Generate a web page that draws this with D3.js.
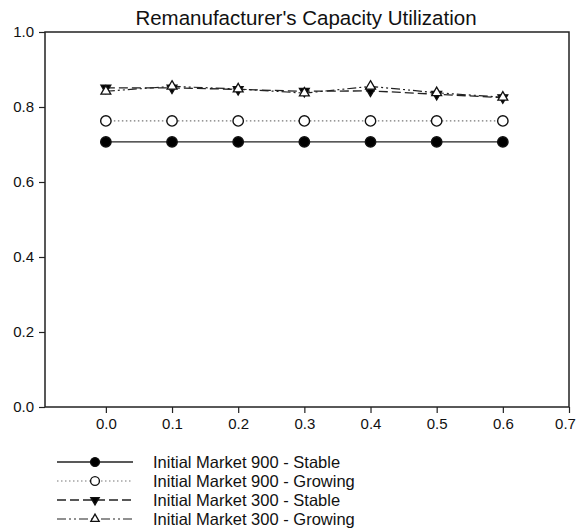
<!DOCTYPE html>
<html>
<head>
<meta charset="utf-8">
<script src="https://cdn.jsdelivr.net/npm/d3@7/dist/d3.min.js"></script>
<style>
  html, body { margin: 0; padding: 0; background: #fff; }
  svg { display: block; font-family: "Liberation Sans", Arial, sans-serif; }
</style>
</head>
<body>
<svg id="chart" width="578" height="528"></svg>
<script>
// Remanufacturer's capacity utilization vs. parameter value
const xValues = [0.0, 0.1, 0.2, 0.3, 0.4, 0.5, 0.6];
const market900Stable  = [0.707, 0.707, 0.707, 0.707, 0.707, 0.707, 0.707];
const market900Growing = [0.763, 0.763, 0.763, 0.763, 0.763, 0.763, 0.763];
const market300Stable  = [0.851, 0.851, 0.847, 0.842, 0.843, 0.834, 0.825];
const market300Growing = [0.842, 0.855, 0.848, 0.837, 0.855, 0.838, 0.826];

const xTicks = [0.0, 0.1, 0.2, 0.3, 0.4, 0.5, 0.6, 0.7];
const yTicks = [0.0, 0.2, 0.4, 0.6, 0.8, 1.0];
const seriesNames = [
  "Initial Market 900 - Stable",
  "Initial Market 900 - Growing",
  "Initial Market 300 - Stable",
  "Initial Market 300 - Growing"
];
const chartTitle = "Remanufacturer's Capacity Utilization";

const svg = d3.select("#chart");
const plot = { left: 45, right: 569, top: 32, bottom: 407 };

const x = d3.scaleLinear().domain([-0.092, 0.7]).range([plot.left, plot.right]);
const y = d3.scaleLinear().domain([0, 1]).range([plot.bottom, plot.top]);

const ink = "#222";

// Series styling
const series = [
  { name: seriesNames[0], values: market900Stable,  dash: null,          lineColor: ink,    lineWidth: 1.4, marker: "circle",  fill: "#000" },
  { name: seriesNames[1], values: market900Growing, dash: "1.5,2.5",     lineColor: "#777", lineWidth: 1.2, marker: "circle",  fill: "#fff" },
  { name: seriesNames[2], values: market300Stable,  dash: "9,4",         lineColor: ink,    lineWidth: 1.3, marker: "triDown", fill: "#000" },
  { name: seriesNames[3], values: market300Growing, dash: "9,3,2,3,2,3", lineColor: ink,    lineWidth: 1.2, marker: "triUp",   fill: "#fff" }
];

// Title
svg.append("text")
  .attr("x", 306)
  .attr("y", 25)
  .attr("text-anchor", "middle")
  .attr("font-size", 20.5)
  .attr("fill", "#111")
  .text(chartTitle);

// Axes
const yAxis = d3.axisLeft(y).tickValues(yTicks).tickFormat(d3.format(".1f")).tickSize(6).tickPadding(5);
const xAxis = d3.axisBottom(x).tickValues(xTicks).tickFormat(d3.format(".1f")).tickSize(6).tickPadding(5);

const gy = svg.append("g").attr("transform", `translate(${plot.left},0)`).call(yAxis);
const gx = svg.append("g").attr("transform", `translate(0,${plot.bottom})`).call(xAxis);
[gx, gy].forEach(g => {
  g.select(".domain").remove();
  g.selectAll(".tick line").attr("stroke", ink).attr("stroke-width", 1.2);
  g.selectAll(".tick text").attr("font-size", 15).attr("fill", "#111")
    .style("font-family", "'Liberation Sans', Arial, sans-serif");
});
// keep the last x label inside the page edge
gx.selectAll(".tick text").filter(d => d === 0.7).attr("dx", -4);

// Frame
svg.append("rect")
  .attr("x", plot.left).attr("y", plot.top)
  .attr("width", plot.right - plot.left).attr("height", plot.bottom - plot.top)
  .attr("fill", "none").attr("stroke", ink).attr("stroke-width", 1.5);

// Markers
function drawMarker(g, kind, cx, cy, fill, scale = 1) {
  if (kind === "circle") {
    g.append("circle").attr("cx", cx).attr("cy", cy).attr("r", 5.2 * scale)
      .attr("fill", fill).attr("stroke", "#111").attr("stroke-width", 1.4);
  } else {
    const sym = d3.symbol().type(d3.symbolTriangle).size(42 * scale * scale)();
    g.append("path").attr("d", sym)
      .attr("transform", `translate(${cx},${cy})` + (kind === "triDown" ? " rotate(180)" : ""))
      .attr("fill", fill).attr("stroke", "#111").attr("stroke-width", 1.3);
  }
}

const line = d3.line().x(d => x(d[0])).y(d => y(d[1]));

series.forEach(s => {
  const pts = xValues.map((xv, i) => [xv, s.values[i]]);
  svg.append("path").attr("d", line(pts))
    .attr("fill", "none").attr("stroke", s.lineColor).attr("stroke-width", s.lineWidth)
    .attr("stroke-dasharray", s.dash);
});
series.forEach(s => {
  const g = svg.append("g");
  xValues.forEach((xv, i) => drawMarker(g, s.marker, x(xv), y(s.values[i]), s.fill));
});

// Legend
const legend = svg.append("g");
const rowY = [462, 481, 500, 519];
series.forEach((s, i) => {
  const ly = rowY[i];
  legend.append("line").attr("x1", 57).attr("x2", 133).attr("y1", ly).attr("y2", ly)
    .attr("stroke", s.lineColor).attr("stroke-width", s.lineWidth).attr("stroke-dasharray", s.dash);
  drawMarker(legend, s.marker, 95, ly, s.fill, 0.85);
  legend.append("text").attr("x", 153).attr("y", ly).attr("dy", "0.36em")
    .attr("font-size", 16.5).attr("fill", "#111").text(s.name);
});
</script>
</body>
</html>
